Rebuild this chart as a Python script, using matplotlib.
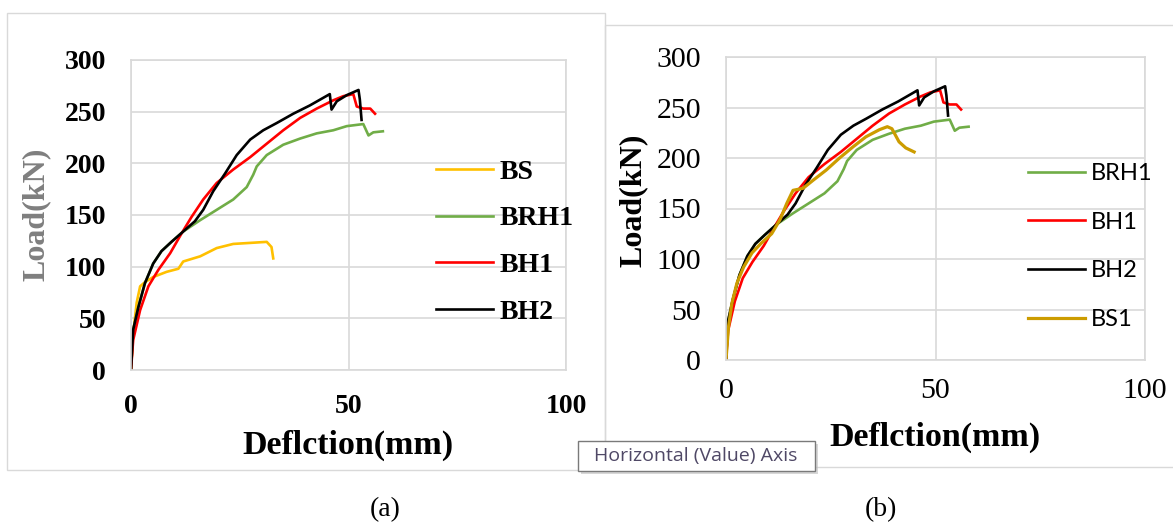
import matplotlib.pyplot as plt
from matplotlib.patches import Rectangle

# deflection (mm) / load (kN)
bs_x = [0, 0.5, 1.3, 2.1, 3.2, 5.1, 8.2, 10.9, 12.0, 15.9, 19.7, 23.5, 27.4, 31.2, 32.3, 32.7]
bs_y = [0, 35, 65, 81, 85, 90, 95, 98, 105, 110, 118, 122, 123, 124, 119, 108]

brh1_x = [0, 0.5, 1.7, 3.2, 5.1, 7.0, 9.3, 12.0, 15.9, 19.7, 23.5, 26.6, 28.1, 28.9,
          31.2, 35.0, 38.9, 42.7, 46.5, 49.6, 53.4, 54.6, 55.7, 57.9]
brh1_y = [0, 39, 61, 84, 103, 115, 124, 134, 145, 155, 165, 177, 189, 197,
          208, 218, 224, 229, 232, 236, 238, 227, 230, 231]

bh1_x = [0, 0.5, 2.1, 4.0, 6.3, 9.0, 11.6, 13.9, 16.6, 19.7, 23.5, 27.4, 31.2, 35.0,
         38.9, 42.7, 46.5, 48.8, 51.1, 51.9, 53.4, 55.0, 56.1]
bh1_y = [0, 29, 58, 81, 97, 113, 132, 148, 165, 181, 194, 206, 219, 232,
         244, 253, 261, 265, 267, 255, 253, 253, 248]

bh2_x = [0, 0.5, 1.7, 3.2, 5.1, 7.0, 9.3, 12.0, 14.7, 16.6, 18.9, 21.6, 24.3, 27.4,
         30.4, 33.5, 37.3, 41.1, 45.7, 46.1, 47.3, 49.6, 52.3, 52.6, 53.0]
bh2_y = [0, 39, 61, 84, 103, 115, 124, 134, 144, 155, 173, 190, 208, 223,
         232, 239, 248, 256, 267, 252, 260, 266, 271, 262, 242]

bs1_x = [0, 0.6, 1.4, 2.6, 4.2, 6.2, 8.5, 10.9, 12.9, 14.5, 16.0, 18.4, 20.8, 23.9,
         27.1, 30.3, 33.4, 36.6, 38.5, 39.6, 41.3, 42.9, 44.9]
bs1_y = [0, 33, 56, 76, 92, 106, 116, 125, 139, 155, 168, 170, 178, 188,
         200, 211, 221, 228, 231, 229, 216, 210, 206]

x_ticks = [0, 50, 100]
y_ticks = [0, 50, 100, 150, 200, 250, 300]

GRID = '#d9d9d9'
SERIF = 'Liberation Serif'

fig = plt.figure(figsize=(11.73, 5.24), dpi=100)

# outer chart frames
fig.patches.append(Rectangle((7/1173, 1-470/524), 598/1173, 457/524, transform=fig.transFigure,
                             fill=False, edgecolor=GRID, lw=1))
fig.patches.append(Rectangle((605/1173, 1-467/524), 600/1173, 442/524, transform=fig.transFigure,
                             fill=False, edgecolor=GRID, lw=1))


def base(ax, bold):
    ax.set_xlim(0, 100)
    ax.set_ylim(0, 300)
    ax.set_xticks(x_ticks)
    ax.set_yticks(y_ticks)
    ax.grid(True, color=GRID, lw=1.2)
    ax.set_axisbelow(True)
    for s in ax.spines.values():
        s.set_color(GRID)
        s.set_linewidth(1.2)
    w = 'bold' if bold else 'normal'
    for t in ax.get_xticklabels() + ax.get_yticklabels():
        t.set_fontfamily(SERIF)
        t.set_fontweight(w)
    ax.tick_params(length=0)


# (a)
a = fig.add_axes([131/1173, 1-370/524, 435/1173, 310/524])
a.plot(bs_x, bs_y, color='#ffc000', lw=1.9, label='BS')
a.plot(brh1_x, brh1_y, color='#70ad47', lw=1.9, label='BRH1')
a.plot(bh1_x, bh1_y, color='#ff0000', lw=1.9, label='BH1')
a.plot(bh2_x, bh2_y, color='black', lw=1.9, label='BH2')
base(a, True)
a.tick_params(labelsize=20, pad=18)
a.tick_params(axis='x', pad=17)
a.set_xlabel('Deflction(mm)', fontfamily=SERIF, fontweight='bold', fontsize=24.5)
a.xaxis.set_label_coords(0.498, -0.242)
a.xaxis.label.set_va('center')
a.set_ylabel('Load(kN)', fontfamily=SERIF, fontweight='bold', fontsize=23, color='#7f7f7f')
a.yaxis.set_label_coords(-0.218, 0.502)
a.yaxis.label.set_va('center')
a.legend(loc='center left', bbox_to_anchor=(0.702, 0.413), frameon=False, handlelength=2.05,
         handletextpad=0.22, labelspacing=0.76, borderpad=0, borderaxespad=0,
         prop={'family': SERIF, 'weight': 'bold', 'size': 20})

# (b)
b = fig.add_axes([726/1173, 1-360/524, 419/1173, 303/524])
b.plot(brh1_x, brh1_y, color='#70ad47', lw=1.9, label='BRH1')
b.plot(bh1_x, bh1_y, color='#ff0000', lw=1.9, label='BH1')
b.plot(bh2_x, bh2_y, color='black', lw=1.9, label='BH2')
b.plot(bs1_x, bs1_y, color='#cc9c00', lw=2.3, label='BS1')
base(b, False)
b.tick_params(labelsize=21.5, pad=18)
b.tick_params(axis='x', pad=13)
b.set_xlabel('Deflction(mm)', fontfamily=SERIF, fontweight='bold', fontsize=24.5)
b.xaxis.set_label_coords(0.499, -0.254)
b.xaxis.label.set_va('center')
b.set_ylabel('Load(kN)', fontfamily=SERIF, fontweight='bold', fontsize=23, color='black')
b.yaxis.set_label_coords(-0.222, 0.528)
b.yaxis.label.set_va('center')
b.legend(loc='center left', bbox_to_anchor=(0.721, 0.375), frameon=False, handlelength=2.4,
         handletextpad=0.25, labelspacing=1.17, borderpad=0, borderaxespad=0,
         prop={'family': 'Lato', 'size': 17})

# tooltip box
fig.patches.append(Rectangle((581/1173, 1-474/524), 237/1173, 30/524, transform=fig.transFigure,
                             facecolor='#bdbdbd', edgecolor='none', alpha=0.6))
fig.patches.append(Rectangle((578/1173, 1-471/524), 237/1173, 30/524, transform=fig.transFigure,
                             facecolor='white', edgecolor='#7a7a7a', lw=1))
fig.text(696/1173, 1-456/524, 'Horizontal (Value) Axis', ha='center', va='center',
         fontfamily='Open Sans', fontsize=14, color='#4f4866')

fig.text(385/1173, 1-510/524, '(a)', ha='center', va='center', fontfamily=SERIF, fontsize=20)
fig.text(881/1173, 1-510/524, '(b)', ha='center', va='center', fontfamily=SERIF, fontsize=20)

fig.savefig('out.png', dpi=100)
